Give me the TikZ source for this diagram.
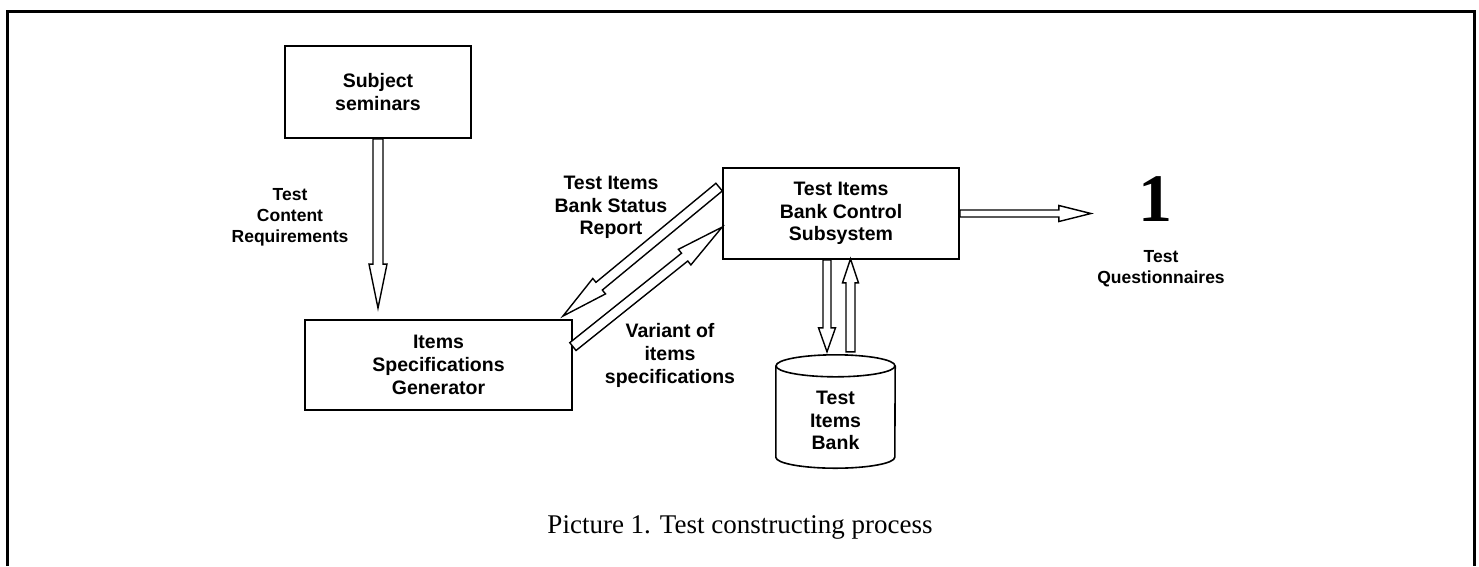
\documentclass[tikz,border=0pt]{standalone}
\usepackage{fontspec}
\setmainfont{Liberation Serif}
\setsansfont{Liberation Sans}
\usetikzlibrary{calc}
\newcommand{\dgbig}{\sffamily\bfseries\fontsize{19.5}{22.8}\selectfont}
\newcommand{\dgsmall}{\sffamily\bfseries\fontsize{17.5}{20.8}\selectfont}
\newcommand{\hollowarr}[5]{%
  \coordinate (hbA) at ($(#2)!#5pt!(#1)$);
  \draw[harr] ($(#1)!#3pt!90:(#2)$) -- ($(hbA)!#3pt!90:(#2)$) -- ($(hbA)!#4pt!90:(#2)$) -- (#2)
    -- ($(hbA)!#4pt!-90:(#2)$) -- ($(hbA)!#3pt!-90:(#2)$) -- ($(#1)!#3pt!-90:(#2)$) -- cycle;}
\begin{document}
\begin{tikzpicture}[x=1pt,y=-1pt,
  box/.style={draw,line width=1.8pt,align=center,font=\dgbig,inner sep=0pt},
  lbl/.style={align=center,font=\dgbig,inner sep=0pt},
  slbl/.style={align=center,font=\dgsmall,inner sep=0pt},
  harr/.style={draw,fill=white,line width=1.4pt,line join=miter}]
\useasboundingbox (0,0) rectangle (1479,566);
\draw[line width=3pt] (7.5,566) -- (7.5,11.5) -- (1474,11.5) -- (1474,566);

% boxes
\node[box,minimum width=186pt,minimum height=92pt] (ss) at (378,92) {Subject\\seminars};
\node[box,minimum width=267pt,minimum height=90pt] (isg) at (438.5,365) {Items\\Specifications\\Generator};
\node[box,minimum width=236pt,minimum height=91pt] (tib) at (841,213.5) {Test Items\\Bank Control\\Subsystem};

% cylinder (test items bank)
\node[minimum width=119pt,minimum height=113pt,inner sep=0pt] (bank) at (835.5,411.5) {};
\draw[line width=1.6pt] ($(bank.north west)+(0,11)$) -- ($(bank.south west)+(0,-11)$)
  arc[start angle=180,end angle=360,x radius=59.5pt,y radius=11pt] -- ($(bank.north east)+(0,11)$);
\draw[line width=1.6pt] ($(bank.north)+(0,11)$) ellipse[x radius=59.5pt,y radius=11pt];
\node[lbl] (bankl) at (835.5,420.5) {Test\\Items\\Bank};

% labels
\node[slbl] (lreq) at (290,217) {Test\\Content\\Requirements};
\node[lbl] (lstat) at (611,207.5) {Test Items\\Bank Status\\Report};
\node[lbl] (lvar) at (670,355.5) {Variant of\\items\\specifications};
\node[inner sep=0pt] (one) at (1155,199.5) {\bfseries\fontsize{68}{68}\selectfont 1};
\node[slbl] (lq) at (1161,269) {Test\\Questionnaires};
\node[inner sep=0pt] (cap) at (740,527) {\fontsize{27}{31}\selectfont Picture 1. Test constructing process};

% connector end points
\coordinate (a1s) at (ss.south);
\coordinate (a1e) at ($(ss.south |- isg.north)+(0,-11)$);
\coordinate (a2s) at ($(tib.north west)+(-3,20)$);
\coordinate (a2e) at ($(isg.north east)+(-10,-3)$);
\coordinate (a3s) at ($(isg.north east)+(0,27.5)$);
\coordinate (a3e) at ($(tib.north west)+(0,60)$);
\coordinate (a4s) at (tib.east);
\coordinate (a4e) at ($(tib.east)+(131,0)$);
\coordinate (a5s) at ($(tib.south)+(-14,0)$);
\coordinate (a5e) at ($(bank.north)+(-8.5,-3)$);
\coordinate (a6s) at ($(bank.north)+(15,-3)$);
\coordinate (a6e) at ($(tib.south)+(9.5,-1)$);

\hollowarr{a1s}{a1e}{5}{9}{44}
\hollowarr{a2s}{a2e}{5}{10}{47}
\hollowarr{a3s}{a3e}{5}{10}{48}
\hollowarr{a4s}{a4e}{3.5}{8}{32}
\hollowarr{a5s}{a5e}{4}{8.5}{24}
\hollowarr{a6s}{a6e}{4.5}{8}{24}
\end{tikzpicture}
\end{document}
